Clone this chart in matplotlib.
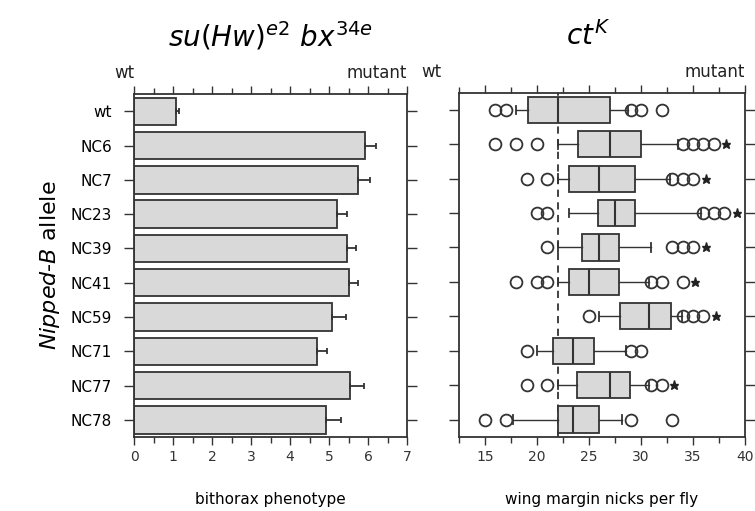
import numpy as np
import matplotlib.pyplot as plt

alleles = ['wt', 'NC6', 'NC7', 'NC23', 'NC39', 'NC41', 'NC59', 'NC71', 'NC77', 'NC78']

# bithorax phenotype: mean and error
bx_mean = [1.07, 5.93, 5.74, 5.20, 5.45, 5.50, 5.07, 4.68, 5.55, 4.92]
bx_err = [0.08, 0.27, 0.30, 0.26, 0.25, 0.24, 0.36, 0.28, 0.34, 0.39]

# wing margin nicks: box plot statistics
whislo = [18.0, 22.0, 22.0, 23.1, 22.0, 22.0, 26.0, 20.0, 22.0, 17.7]
q1 = [19.1, 23.9, 23.1, 25.9, 24.3, 23.1, 28.0, 21.5, 23.8, 22.0]
med = [22.0, 27.0, 26.0, 27.5, 26.0, 25.0, 30.8, 23.5, 27.0, 23.5]
q3 = [27.0, 30.0, 29.4, 29.4, 27.9, 27.9, 32.9, 25.5, 28.9, 26.0]
whishi = [28.7, 33.6, 32.8, 35.8, 31.0, 30.8, 33.9, 28.6, 30.8, 28.2]
outliers = [[16, 17, 29, 30, 32],
            [16, 18, 20, 34, 35, 36, 37],
            [19, 21, 33, 34, 35],
            [20, 21, 36, 37, 38],
            [21, 33, 34, 35],
            [18, 20, 21, 31, 32, 34],
            [25, 34, 35, 36],
            [19, 29, 30],
            [19, 21, 31, 32],
            [15, 17, 29, 33]]
significant = [False, True, True, True, True, True, True, False, True, False]
wt_median = 22

edge = '#333333'
fill = '#d9d9d9'

fig = plt.figure(figsize=(7.55, 5.11), dpi=100)
ax1 = fig.add_axes([0.1775, 0.1448, 0.3616, 0.671])
ax2 = fig.add_axes([0.608, 0.1454, 0.3788, 0.6732])

y = np.arange(len(alleles))

# left: bar chart
ax1.barh(y, bx_mean, height=0.8, color=fill, edgecolor=edge, linewidth=1.3,
         xerr=[np.zeros(len(bx_err)), bx_err], capsize=2.5,
         error_kw=dict(ecolor=edge, elinewidth=1.3, capthick=1.3))
ax1.set_xlim(0, 7)
ax1.set_ylim(len(alleles) - 0.5, -0.5)
ax1.set_xticks(np.arange(0, 8, 1))
ax1.set_xticks(np.arange(0, 7.01, 0.5), minor=True)
ax1.set_yticks(y)
ax1.set_yticklabels(alleles, fontsize=11)
ax1.set_xlabel('bithorax phenotype', fontsize=11, labelpad=20)
ax1.set_ylabel(r'$\mathit{Nipped}$-$\mathit{B}$ allele', fontsize=16, labelpad=6)

# right: box plot
stats = []
for i in range(len(alleles)):
    stats.append(dict(whislo=whislo[i], q1=q1[i], med=med[i], q3=q3[i],
                      whishi=whishi[i], fliers=outliers[i]))
ax2.bxp(stats, positions=y, widths=0.76, vert=False, patch_artist=True,
        boxprops=dict(facecolor=fill, edgecolor=edge, linewidth=1.3),
        medianprops=dict(color=edge, linewidth=1.5),
        whiskerprops=dict(color=edge, linewidth=1.0),
        capprops=dict(color=edge, linewidth=1.3), capwidths=0.25,
        flierprops=dict(marker='o', markerfacecolor='none', markeredgecolor=edge,
                        markersize=8.5, markeredgewidth=1.3))
ax2.axvline(wt_median, color=edge, linestyle=(0, (4, 3)), linewidth=1.3, zorder=0)
for i in range(len(alleles)):
    if significant[i]:
        ax2.plot(max(outliers[i]) + 1.2, y[i], marker='*', color='#222222',
                 markersize=6.5, linestyle='none')
ax2.set_xlim(12.5, 40)
ax2.set_ylim(len(alleles) - 0.5, -0.5)
ax2.set_xticks(np.arange(15, 41, 5))
ax2.set_xticks(np.arange(12.5, 40.01, 2.5), minor=True)
ax2.set_yticks(y)
ax2.set_yticklabels([])
ax2.set_xlabel('wing margin nicks per fly', fontsize=11, labelpad=20)

for ax, wt_x in ((ax1, 0.0), (ax2, -0.06)):
    for s in ax.spines.values():
        s.set_color(edge)
        s.set_linewidth(1.3)
    ax.tick_params(axis='x', which='both', top=True, direction='out', color=edge,
                   labelsize=10, labelcolor='#333333')
    ax.tick_params(axis='x', which='major', length=6, width=1.0)
    ax.tick_params(axis='x', which='minor', length=4, width=1.0)
    ax.tick_params(axis='y', which='both', left=True, right=True, direction='out',
                   length=7, width=1.0, color=edge, pad=9)
    ax.text(wt_x, 1.035, 'wt', transform=ax.transAxes, ha='right', va='bottom',
            fontsize=12, color='#222222')
    ax.text(1, 1.035, 'mutant', transform=ax.transAxes, ha='right', va='bottom',
            fontsize=12, color='#222222')

ax1.set_title(r'$\mathit{su(Hw)}^{e2}\ \mathit{bx}^{34e}$', fontsize=20, pad=34)
ax2.set_title(r'$\mathit{ct}^{K}$', fontsize=20, pad=34, x=0.45)

fig.savefig('out.png', dpi=100)
